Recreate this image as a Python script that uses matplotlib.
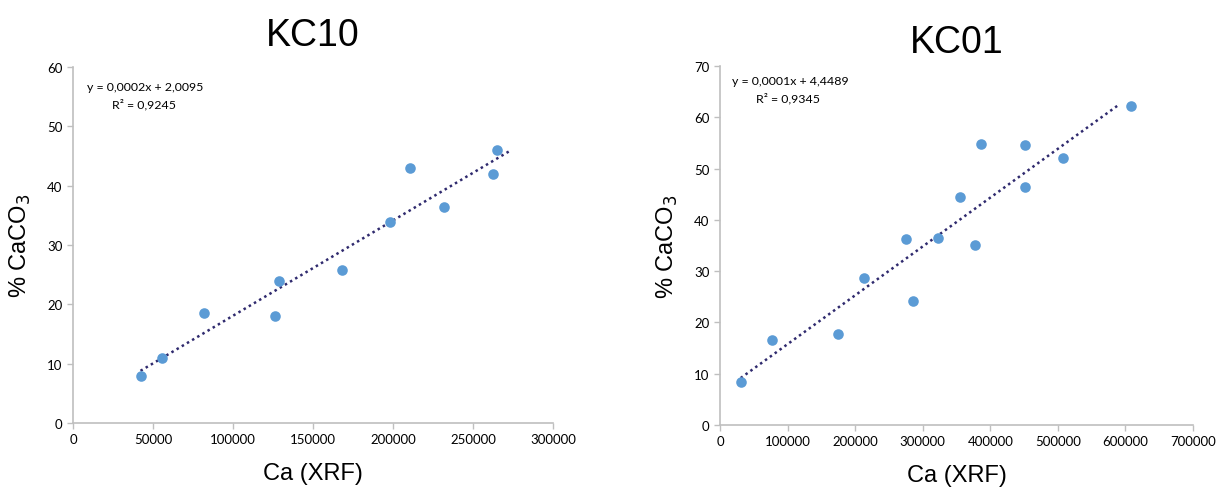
import numpy as np
import matplotlib.pyplot as plt

# KC10 core
kc10_ca = [42200, 55900, 81700, 126100, 128900, 168300, 198300, 210700, 231900, 262300, 264800]
kc10_caco3 = [8.0, 11.0, 18.5, 18.0, 24.0, 25.8, 33.9, 43.0, 36.4, 42.0, 46.0]
kc10_trend_span = [42200, 273500]
kc10_eq = ["y = 0,0002x + 2,0095", "R² = 0,9245"]

# KC01 core
kc01_ca = [30600, 77400, 175100, 213100, 274800, 286100, 322600, 355700,
           376900, 386700, 451800, 451800, 507600, 608700]
kc01_caco3 = [8.3, 16.5, 17.7, 28.7, 36.3, 24.2, 36.5, 44.5,
              35.1, 54.8, 54.5, 46.4, 52.0, 62.2]
kc01_trend_span = [30600, 588500]
kc01_eq = ["y = 0,0001x + 4,4489", "R² = 0,9345"]

dot_color = '#5B9BD5'
trend_color = '#2F2A6E'
axis_color = '#BFBFBF'
tick_font = 'Lato'
label_font = 'Liberation Sans'

fig = plt.figure(figsize=(12.26, 4.89), dpi=100)
W, H = 1226, 489


def px_axes(x0, y0, x1, y1):
    return fig.add_axes([x0 / W, 1 - y1 / H, (x1 - x0) / W, (y1 - y0) / H])


def draw_panel(ax, ca, caco3, span, eq, title, xmax, ymax, eq_pos, title_pad):
    ax.scatter(ca, caco3, s=58, color=dot_color, zorder=3, linewidths=0)
    slope, icpt = np.polyfit(ca, caco3, 1)
    xs = np.array(span)
    ax.plot(xs, slope * xs + icpt, linestyle=(0, (1, 1.4)), color=trend_color,
            linewidth=1.8, zorder=2)
    ax.set_xlim(0, xmax)
    ax.set_ylim(0, ymax)
    ax.set_xticks(np.arange(0, xmax + 1, xmax // (6 if xmax == 300000 else 7)))
    ax.set_yticks(np.arange(0, ymax + 1, 10))
    for s in ['top', 'right']:
        ax.spines[s].set_visible(False)
    for s in ['left', 'bottom']:
        ax.spines[s].set_color(axis_color)
        ax.spines[s].set_linewidth(1.2)
    ax.tick_params(colors=axis_color, length=4, width=1, labelcolor='black', labelsize=9.5)
    for lab in ax.get_xticklabels() + ax.get_yticklabels():
        lab.set_fontfamily(tick_font)
    ax.set_title(title, fontsize=27, family=label_font, pad=title_pad)
    ax.set_xlabel('Ca (XRF)', fontsize=17, family=label_font, labelpad=12)
    ax.set_ylabel('% CaCO$_3$', fontsize=17, family=label_font, labelpad=10)
    ax.text(eq_pos[0], eq_pos[1], eq[0], transform=ax.transAxes, fontsize=8.9,
            family=tick_font, va='center', ha='left')
    ax.text(eq_pos[0] + 0.052, eq_pos[1] - 0.048, eq[1], transform=ax.transAxes,
            fontsize=8.9, family=tick_font, va='center', ha='left')


ax1 = px_axes(73, 68, 553, 424)
draw_panel(ax1, kc10_ca, kc10_caco3, kc10_trend_span, kc10_eq, 'KC10',
           300000, 60, (0.03, 0.945), 16)

ax2 = px_axes(720, 67, 1193, 426)
draw_panel(ax2, kc01_ca, kc01_caco3, kc01_trend_span, kc01_eq, 'KC01',
           700000, 70, (0.025, 0.96), 10)

fig.savefig('out.png', dpi=100)
